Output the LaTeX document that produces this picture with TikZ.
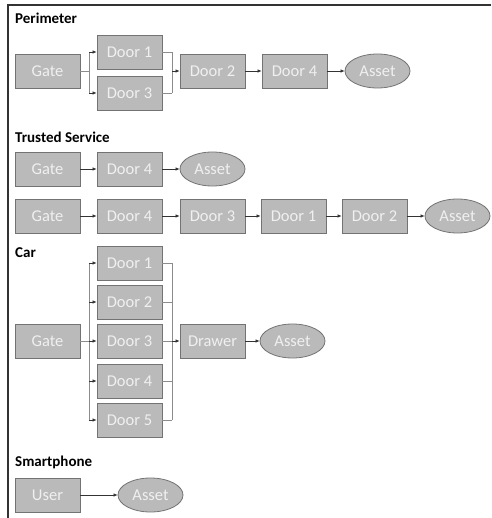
\documentclass[tikz,border=0pt]{standalone}
\usepackage{fontspec}
\setmainfont{Carlito}
\usetikzlibrary{arrows.meta,calc,positioning,shapes.geometric}

\begin{document}
\begin{tikzpicture}[x=1pt,y=-1pt,
    blk/.style={draw=black!55,fill=black!27,line width=0.8pt,minimum width=65pt,
      minimum height=34pt,inner sep=0pt,text=white!94!black,
      font=\fontsize{16.5}{18}\selectfont},
    goal/.style={blk,ellipse},
    lnk/.style={-{Latex[length=4pt,width=3.5pt]},black!80,line width=0.6pt},
    fork/.style={black!45,line width=0.6pt},
    ttl/.style={anchor=west,inner sep=0pt,font=\fontsize{15}{17}\selectfont\bfseries}]

      \useasboundingbox (0,0) rectangle (491,518);

      % frame
      \draw[black!80,line width=1.6pt] (491,5) -- (8,5) -- (8,518);

      % Perimeter
      \node[ttl] (tPer) at (15,18) {Perimeter};
      \node[blk] (pGate) at (47.5,71) {Gate};
      \node[blk] (pD1) at (129.5,52) {Door 1};
      \node[blk] (pD3) at (129.5,93) {Door 3};
      \node[blk] (pD2) at (212.5,71) {Door 2};
      \node[blk] (pD4) at (294.5,71) {Door 4};
      \node[goal] (pAsset) at (377.5,71) {Asset};

      \draw[fork] (pGate.east) -- ++(9,0) coordinate (pL);
      \draw[fork] (pL |- pD1) -- (pL |- pD3);
      \foreach \d in {pD1,pD3}
        \draw[lnk] (pL |- \d) -- (\d.west);
      \coordinate (pR) at ($(pD1.east)+(10,0)$);
      \foreach \d in {pD1,pD3}
        \draw[fork] (\d.east) -- (pR |- \d);
      \draw[fork] (pR |- pD1) -- (pR |- pD3);
      \draw[lnk] (pR |- pD2) -- (pD2.west);
      \draw[lnk] (pD2) -- (pD4);
      \draw[lnk] (pD4) -- (pAsset);

      % Trusted Service
      \node[ttl] (tTru) at (15,137) {Trusted Service};
      \node[blk] (aGate) at (47.5,169) {Gate};
      \node[blk] (aD4) at (129.5,169) {Door 4};
      \node[goal] (aAsset) at (212.5,169) {Asset};
      \draw[lnk] (aGate) -- (aD4);
      \draw[lnk] (aD4) -- (aAsset);

      \node[blk] (bGate) at (47.5,216) {Gate};
      \node[blk] (bD4) at (129.5,216) {Door 4};
      \node[blk] (bD3) at (212.5,216) {Door 3};
      \node[blk] (bD1) at (293.5,216) {Door 1};
      \node[blk] (bD2) at (374.5,216) {Door 2};
      \node[goal] (bAsset) at (457.5,216) {Asset};
      \foreach \a/\b in {bGate/bD4,bD4/bD3,bD3/bD1,bD1/bD2,bD2/bAsset}
        \draw[lnk] (\a) -- (\b);

      % Car
      \node[ttl] (tCar) at (15,253) {Car};
      \node[blk] (cGate) at (47.5,341) {Gate};
      \foreach \i/\y in {1/263,2/302,3/341,4/381,5/420}
        \node[blk] (cD\i) at (129.5,\y) {Door \i};
      \node[blk] (cDrawer) at (212.5,341) {Drawer};
      \node[goal] (cAsset) at (292.5,341) {Asset};

      \draw[fork] (cGate.east) -- ++(9,0) coordinate (cL);
      \draw[fork] (cL |- cD1) -- (cL |- cD5);
      \coordinate (cR) at ($(cD1.east)+(10,0)$);
      \foreach \i in {1,...,5}
      {
        \draw[lnk] (cL |- cD\i) -- (cD\i.west);
        \draw[fork] (cD\i.east) -- (cR |- cD\i);
      }
      \draw[fork] (cR |- cD1) -- (cR |- cD5);
      \draw[lnk] (cR |- cDrawer) -- (cDrawer.west);
      \draw[lnk] (cDrawer) -- (cAsset);

      % Smartphone
      \node[ttl] (tPho) at (15,462) {Smartphone};
      \node[blk] (sUser) at (47.5,495) {User};
      \node[goal] (sAsset) at (150.5,495) {Asset};
      \draw[lnk] (sUser) -- (sAsset);

\end{tikzpicture}
\end{document}
